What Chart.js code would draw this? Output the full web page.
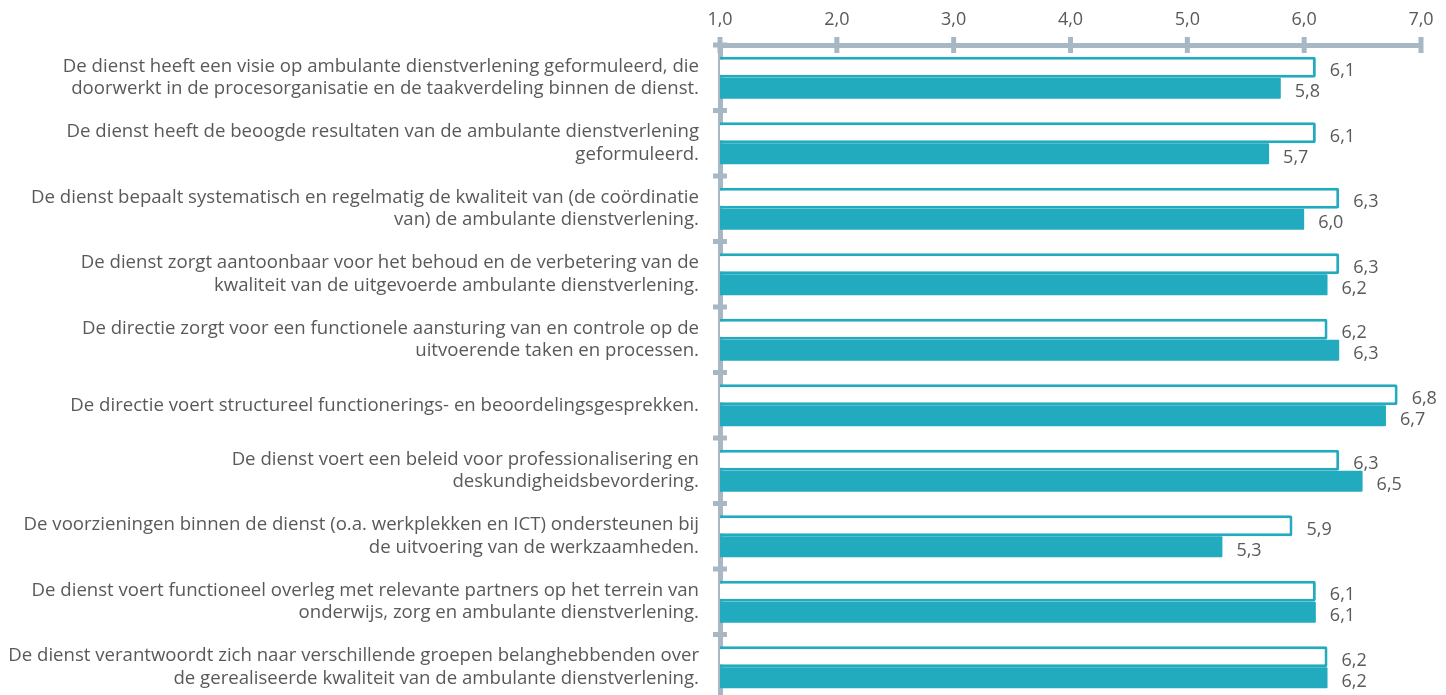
<!DOCTYPE html>
<html lang="nl">
  <head>
    <meta charset="UTF-8" />
    <title>Ambulante dienstverlening</title>
    <script src="https://cdn.jsdelivr.net/npm/chart.js@4"></script>
    <style>
      html, body { margin: 0; padding: 0; background: #fff; overflow: hidden; }
      #wrap { position: relative; width: 1446px; height: 700px; }
    </style>
  </head>
  <body>
    <div id="wrap"><canvas id="myChart"></canvas></div>
    <script>
      const labels = [
        ['De dienst heeft een visie op ambulante dienstverlening geformuleerd, die', 'doorwerkt in de procesorganisatie en de taakverdeling binnen de dienst.'],
        ['De dienst heeft de beoogde resultaten van de ambulante dienstverlening', 'geformuleerd.'],
        ['De dienst bepaalt systematisch en regelmatig de kwaliteit van (de coördinatie', 'van) de ambulante dienstverlening.'],
        ['De dienst zorgt aantoonbaar voor het behoud en de verbetering van de', 'kwaliteit van de uitgevoerde ambulante dienstverlening.'],
        ['De directie zorgt voor een functionele aansturing van en controle op de', 'uitvoerende taken en processen.'],
        ['De directie voert structureel functionerings- en beoordelingsgesprekken.'],
        ['De dienst voert een beleid voor professionalisering en', 'deskundigheidsbevordering.'],
        ['De voorzieningen binnen de dienst (o.a. werkplekken en ICT) ondersteunen bij', 'de uitvoering van de werkzaamheden.'],
        ['De dienst voert functioneel overleg met relevante partners op het terrein van', 'onderwijs, zorg en ambulante dienstverlening.'],
        ['De dienst verantwoordt zich naar verschillende groepen belanghebbenden over', 'de gerealiseerde kwaliteit van de ambulante dienstverlening.']
      ];
      const seriesA = [6.1, 6.1, 6.3, 6.3, 6.2, 6.8, 6.3, 5.9, 6.1, 6.2];
      const seriesB = [5.8, 5.7, 6.0, 6.2, 6.3, 6.7, 6.5, 5.3, 6.1, 6.2];
      const xTicks = [1, 2, 3, 4, 5, 6, 7];

      const teal = '#22aabe';
      const axisGray = '#a8b7c4';
      const textGray = '#595959';
      const fontFam = "'Open Sans', sans-serif";

      const fmt = v => v.toFixed(1).replace('.', ',');

      // crossing tick marks like the original
      const crossTicks = {
        id: 'crossTicks',
        afterDraw(chart) {
          const ctx = chart.ctx;
          const x = chart.scales.x, y = chart.scales.y;
          const top = chart.chartArea.top, left = chart.chartArea.left;
          ctx.save();
          ctx.strokeStyle = axisGray;
          ctx.lineWidth = 5;
          xTicks.forEach(v => {
            const px = x.getPixelForValue(v);
            ctx.beginPath();
            ctx.moveTo(px, top - 8);
            ctx.lineTo(px, top + 8);
            ctx.stroke();
          });
          for (let i = 0; i <= labels.length; i++) {
            const py = (y.getPixelForValue(i - 0.5));
            ctx.beginPath();
            ctx.moveTo(left - 7, py);
            ctx.lineTo(left + 7, py);
            ctx.stroke();
          }
          ctx.restore();
        }
      };

      const valueLabels = {
        id: 'valueLabels',
        afterDatasetsDraw(chart) {
          const ctx = chart.ctx;
          ctx.save();
          ctx.font = '18px ' + fontFam;
          ctx.fillStyle = textGray;
          ctx.textBaseline = 'middle';
          ctx.textAlign = 'left';
          chart.data.datasets.forEach((ds, di) => {
            chart.getDatasetMeta(di).data.forEach((bar, i) => {
              ctx.fillText(fmt(ds.data[i]), bar.x + 14, bar.y + 4);
            });
          });
          ctx.restore();
        }
      };

      new Chart(document.getElementById('myChart'), {
        type: 'bar',
        data: {
          labels: labels,
          datasets: [
            {
              label: 'A',
              data: seriesA,
              backgroundColor: '#ffffff',
              borderColor: teal,
              borderWidth: 3,
              borderRadius: 2,
              base: 1
            },
            {
              label: 'B',
              data: seriesB,
              backgroundColor: teal,
              borderWidth: 0,
              borderRadius: 1,
              base: 1
            }
          ]
        },
        options: {
          indexAxis: 'y',
          responsive: true,
          maintainAspectRatio: false,
          animation: false,
          layout: { padding: { top: 0, right: 25, bottom: 0, left: 0 } },
          datasets: { bar: { barPercentage: 1, categoryPercentage: 0.64 } },
          plugins: { legend: { display: false }, tooltip: { enabled: false } },
          scales: {
            x: {
              position: 'top',
              min: 1,
              max: 7,
              afterFit: s => { s.height = 45; },
              afterBuildTicks: s => { s.ticks = xTicks.map(v => ({ value: v })); },
              ticks: {
                color: textGray,
                font: { family: fontFam, size: 18 },
                padding: 6,
                callback: v => fmt(v)
              },
              grid: { display: false },
              border: { color: axisGray, width: 5 }
            },
            y: {
              afterFit: s => { s.width = 720; s.paddingTop = 0; s.paddingBottom = 0; },
              ticks: {
                color: textGray,
                font: { family: fontFam, size: 18.6, lineHeight: 1.19 },
                padding: 13
              },
              grid: { display: false },
              border: { color: axisGray, width: 5 }
            }
          }
        },
        plugins: [crossTicks, valueLabels]
      });
    </script>
  </body>
</html>
